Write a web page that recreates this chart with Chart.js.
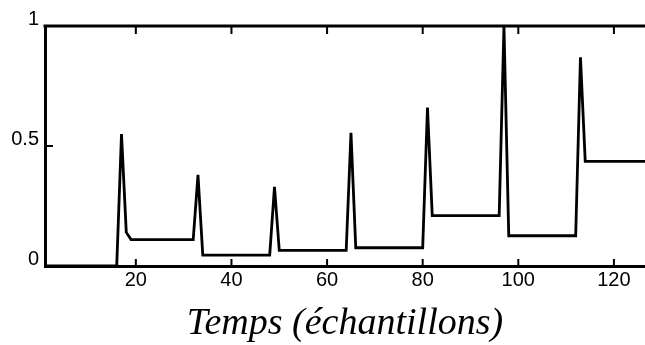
<!DOCTYPE html>
<html lang="fr">
<head>
  <meta charset="UTF-8">
  <title>Temps (échantillons)</title>
  <script src="https://cdn.jsdelivr.net/npm/chart.js"></script>
  <style>
    html, body {
      margin: 0;
      padding: 0;
      background: #fff;
      overflow: hidden;
    }
    #wrap {
      width: 645px;
      height: 345px;
    }
  </style>
</head>
<body>
  <div id="wrap">
    <canvas id="signalChart" width="645" height="345"></canvas>
  </div>
  <script>
    // points de rupture du signal (échantillon, amplitude)
    const samples = [1, 16, 17, 18, 19, 32, 33, 34, 48, 49, 50, 64, 65, 66, 80, 81, 82, 96, 97, 98, 112, 113, 114, 128];
    const amplitude = [0, 0, 0.55, 0.14, 0.11, 0.11, 0.38, 0.045, 0.045, 0.33, 0.065, 0.065, 0.555, 0.076, 0.076, 0.66, 0.21, 0.21, 1.0, 0.126, 0.126, 0.87, 0.436, 0.436];
    const xTicks = [20, 40, 60, 80, 100, 120];
    const yTicks = [0, 0.5, 1];
    const xLabel = 'Temps (échantillons)';

    // petits traits vers l'intérieur + cadre du haut, comme sur la figure
    const innerTicks = {
      id: 'innerTicks',
      afterDraw(chart) {
        const ctx = chart.ctx;
        const area = chart.chartArea;
        const x = chart.scales.x;
        const y = chart.scales.y;
        ctx.save();
        ctx.strokeStyle = '#000';
        ctx.lineWidth = 3;
        ctx.beginPath();
        ctx.moveTo(area.left - 1.5, area.top);
        ctx.lineTo(area.right, area.top);
        ctx.stroke();
        ctx.lineWidth = 2;
        xTicks.forEach(v => {
          const px = x.getPixelForValue(v);
          ctx.beginPath();
          ctx.moveTo(px, area.bottom);
          ctx.lineTo(px, area.bottom - 7);
          ctx.moveTo(px, area.top);
          ctx.lineTo(px, area.top + 8);
          ctx.stroke();
        });
        yTicks.forEach(v => {
          const py = y.getPixelForValue(v);
          ctx.beginPath();
          ctx.moveTo(area.left, py);
          ctx.lineTo(area.left + 8, py);
          ctx.stroke();
        });
        ctx.restore();
      }
    };

    new Chart(document.getElementById('signalChart').getContext('2d'), {
      type: 'line',
      data: {
        datasets: [{
          data: samples.map((s, i) => ({ x: s, y: amplitude[i] })),
          borderColor: '#000',
          borderWidth: 2.8,
          pointRadius: 0,
          tension: 0,
          fill: false,
          clip: 4
        }]
      },
      options: {
        responsive: false,
        animation: false,
        devicePixelRatio: 1,
        layout: { padding: { top: 26, right: 0, left: 0, bottom: 0 } },
        plugins: {
          legend: { display: false },
          tooltip: { enabled: false }
        },
        scales: {
          x: {
            type: 'linear',
            min: 1,
            max: 126.5,
            afterBuildTicks: s => { s.ticks = xTicks.map(v => ({ value: v })); },
            afterFit: s => { s.height = 79; },
            grid: { display: false, drawTicks: false },
            border: { display: true, color: '#000', width: 3 },
            ticks: {
              color: '#000',
              padding: 2,
              maxRotation: 0,
              autoSkip: false,
              font: { family: "'Liberation Sans', Arial, sans-serif", size: 20 }
            },
            title: {
              display: true,
              text: xLabel,
              color: '#000',
              padding: { top: 0, bottom: -2 },
              font: { family: "'Liberation Serif', 'Times New Roman', serif", size: 38, style: 'italic' }
            }
          },
          y: {
            min: 0,
            max: 1,
            afterBuildTicks: s => { s.ticks = yTicks.map(v => ({ value: v })); },
            afterFit: s => { s.width = 45; },
            grid: { display: false, drawTicks: false },
            border: { display: true, color: '#000', width: 3 },
            ticks: {
              color: '#000',
              padding: 6,
              labelOffset: -7,
              callback: v => String(v),
              font: { family: "'Liberation Sans', Arial, sans-serif", size: 20 }
            }
          }
        }
      },
      plugins: [innerTicks]
    });
  </script>
</body>
</html>
